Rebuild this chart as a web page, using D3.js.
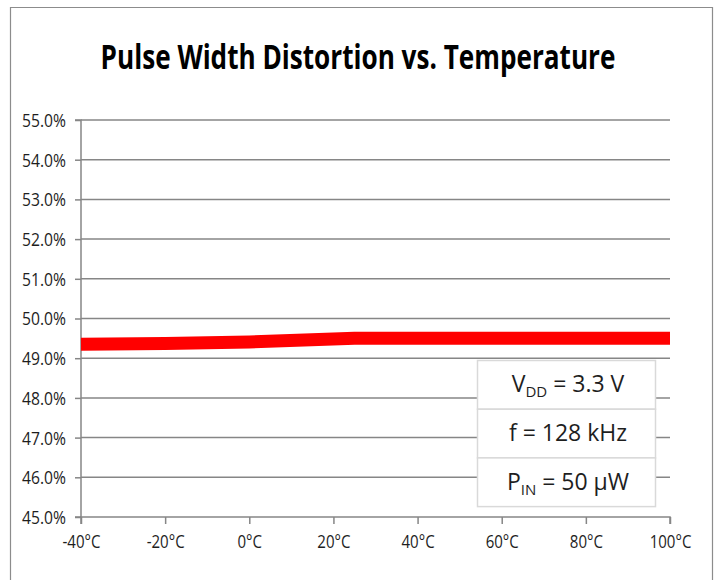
<!DOCTYPE html>
<html><head><meta charset="utf-8">
<script src="https://cdn.jsdelivr.net/npm/d3@7"></script>
<style>body{margin:0;background:#fff}svg{display:block}</style>
</head><body>
<svg id="c" width="715" height="580"></svg>
<script>
const temps = [-40, -20, 0, 25, 60, 85, 100];
const pwd = [49.35, 49.37, 49.41, 49.50, 49.50, 49.50, 49.50];
const xTicks = [-40, -20, 0, 20, 40, 60, 80, 100];
const yTicks = [45, 46, 47, 48, 49, 50, 51, 52, 53, 54, 55];
const title = "Pulse Width Distortion vs. Temperature";
const legendRows = [["V", "DD", " = 3.3 V"], ["f = 128 kHz", "", ""], ["P", "IN", " = 50 µW"]];

const FONT = "'Open Sans','Liberation Sans',sans-serif";
const svg = d3.select("#c");

// horizontal condensing about the text anchor x
function squeeze(node, s){
  const ax = +node.getAttribute("x") || 0;
  node.setAttribute("transform", `translate(${ax},0) scale(${s},1) translate(${-ax},0)`);
}

svg.append("path").attr("d","M10.5,580 V7.5 H712.5 V580").attr("fill","none").attr("stroke","#8c8c8c").attr("stroke-width",1.2);

const x = d3.scaleLinear().domain([-40,100]).range([81,670]);
const y = d3.scaleLinear().domain([45,55]).range([517,120]);

// title
const tt = svg.append("text").attr("x",358).attr("y",69).attr("text-anchor","middle")
  .attr("font-family",FONT).attr("font-weight","bold").attr("font-size",34)
  .attr("fill","#000").text(title);
squeeze(tt.node(), 515/tt.node().getComputedTextLength());

// gridlines
svg.append("g").selectAll("line").data(yTicks.filter(d=>d>45)).join("line")
  .attr("x1",x(-40)).attr("x2",x(100)).attr("y1",d=>y(d)).attr("y2",d=>y(d))
  .attr("stroke","#868686").attr("stroke-width",1.5);

// y axis
const ya = svg.append("g").attr("transform",`translate(${x(-40)},0)`)
  .call(d3.axisLeft(y).tickValues(yTicks).tickSize(6).tickPadding(9).tickFormat(d=>d3.format(".1f")(d)+"%"));
ya.select(".domain").attr("stroke","#868686").attr("stroke-width",1.5).attr("d",`M-6,${y(55)}H0V${y(45)}H-6`);
ya.selectAll(".tick line").attr("stroke","#868686").attr("stroke-width",1.5);
const yt = ya.selectAll(".tick text").attr("font-family",FONT).attr("font-size",18).attr("fill","#1e1e1e").attr("dy","0.36em");
const ys = 44/yt.node().getComputedTextLength();
yt.each(function(){ squeeze(this, ys); });

// x axis
const xa = svg.append("g").attr("transform",`translate(0,${y(45)})`)
  .call(d3.axisBottom(x).tickValues(xTicks).tickSize(7).tickPadding(11).tickFormat(d=>d+"°C"));
xa.select(".domain").attr("stroke","#868686").attr("stroke-width",1.5).attr("d",`M${x(-40)},7V0H${x(100)}V7`);
xa.selectAll(".tick line").attr("stroke","#868686").attr("stroke-width",1.5);
const xt = xa.selectAll(".tick text").attr("font-family",FONT).attr("font-size",18).attr("fill","#1e1e1e");
const xs = 38/xt.node().getComputedTextLength();
xt.each(function(){ squeeze(this, xs); });

// data line
const data = temps.map((t,i)=>({t,v:pwd[i]}));
svg.append("path").datum(data).attr("fill","none").attr("stroke","#ff0000").attr("stroke-width",13)
  .attr("d",d3.line().x(d=>x(d.t)).y(d=>y(d.v)));

// legend box
const lx=477, ly=360, lw=178, rh=48.7;
const targetW = [124, 124, 138];
const lg = svg.append("g");
legendRows.forEach((r,i)=>{
  lg.append("rect").attr("x",lx+0.5).attr("y",ly+i*rh+0.5).attr("width",lw).attr("height",rh)
    .attr("fill","#fff").attr("stroke","#d9d9d9").attr("stroke-width",1.5);
  const t = lg.append("text").attr("x",lx+lw/2+2).attr("y",ly+i*rh+rh/2+8).attr("text-anchor","middle")
    .attr("font-family",FONT).attr("font-size",23).attr("fill","#1e1e1e");
  t.append("tspan").text(r[0]);
  if(r[1]) t.append("tspan").attr("font-size",15).attr("dy",5).text(r[1]);
  if(r[2]) t.append("tspan").attr("dy",r[1]?-5:0).text(r[2]);
  squeeze(t.node(), Math.min(1, targetW[i]/t.node().getComputedTextLength()));
});
</script>
</body></html>
